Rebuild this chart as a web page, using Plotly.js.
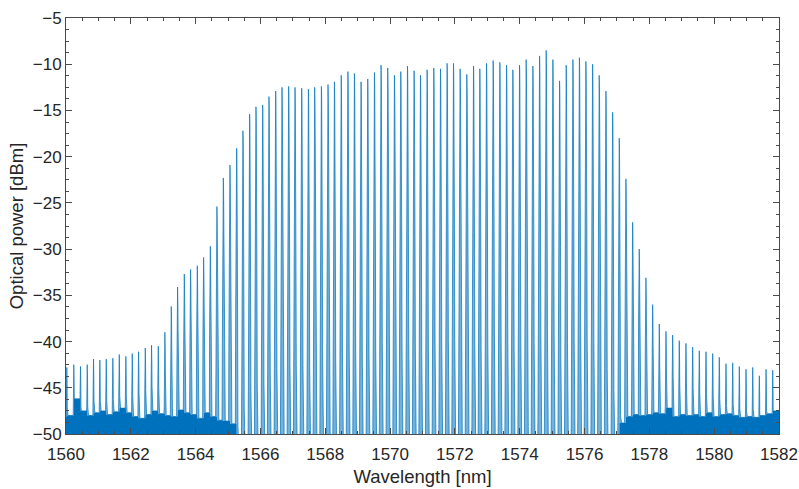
<!DOCTYPE html>
<html>
<head>
<meta charset="utf-8">
<script src="https://cdn.plot.ly/plotly-3.0.1.min.js"></script>
<style>html,body{margin:0;padding:0;background:#fff;}#chart{width:799px;height:489px;}</style>
</head>
<body>
<div id="chart"></div>
<script>
// Comb line centre wavelengths [nm]
const peakWavelength = [1560.025,1560.241,1560.448,1560.655,1560.849,1561.044,1561.241,1561.445,1561.643,1561.847,
1562.044,1562.239,1562.446,1562.640,1562.847,1563.051,1563.248,1563.443,1563.650,1563.844,
1564.051,1564.246,1564.453,1564.656,1564.854,1565.058,1565.265,1565.459,1565.666,1565.861,
1566.068,1566.262,1566.469,1566.664,1566.870,1567.065,1567.272,1567.479,1567.673,1567.880,
1568.084,1568.282,1568.491,1568.698,1568.899,1569.103,1569.310,1569.517,1569.720,1569.927,
1570.134,1570.329,1570.536,1570.739,1570.937,1571.141,1571.348,1571.555,1571.758,1571.956,
1572.160,1572.367,1572.574,1572.768,1572.975,1573.179,1573.386,1573.593,1573.787,1573.994,
1574.198,1574.405,1574.612,1574.815,1575.022,1575.229,1575.433,1575.640,1575.841,1576.041,
1576.248,1576.452,1576.659,1576.866,1577.070,1577.276,1577.483,1577.687,1577.894,1578.101,
1578.305,1578.512,1578.719,1578.922,1579.129,1579.336,1579.540,1579.747,1579.954,1580.157,
1580.364,1580.571,1580.775,1580.982,1581.189,1581.393,1581.600,1581.806];

// Peak power of each comb line [dBm]
const peakPower = [-42.8,-42.5,-42.7,-42.5,-41.9,-42.0,-41.9,-41.8,-41.4,-41.6,
-41.3,-41.1,-40.7,-40.4,-40.5,-39.0,-36.2,-34.1,-32.7,-32.2,
-31.8,-30.9,-29.7,-25.4,-22.3,-20.9,-19.1,-17.2,-15.4,-14.6,
-14.4,-13.5,-12.9,-12.5,-12.4,-12.5,-12.6,-12.7,-12.5,-12.4,
-12.2,-11.9,-11.2,-10.8,-11.0,-11.9,-11.6,-10.9,-10.1,-10.4,
-11.2,-10.8,-10.2,-10.7,-11.2,-10.6,-10.4,-10.5,-9.9,-9.9,
-10.5,-11.1,-10.2,-10.5,-9.9,-9.6,-9.8,-10.1,-10.6,-10.1,
-9.5,-10.2,-9.1,-8.5,-9.5,-11.8,-10.1,-9.5,-9.3,-9.7,
-10.0,-11.2,-12.9,-15.2,-18.0,-22.4,-27.1,-30.0,-33.1,-36.0,
-38.1,-38.9,-39.3,-39.9,-40.2,-40.6,-41.0,-41.1,-41.3,-41.7,
-42.4,-42.3,-42.7,-43.0,-42.8,-43.7,-43.0,-43.1];

// Noise-floor level in each gap (before line 1, between lines, after the last) [dBm]
const floorLevel = [-48.1,-48.0,-46.2,-47.5,-48.0,-47.7,-47.5,-47.9,-47.6,-47.2,
-47.7,-48.1,-48.3,-47.9,-47.5,-47.8,-48.0,-48.1,-47.4,-47.7,
-47.9,-48.3,-47.7,-48.1,-48.5,-48.6,-48.9,
-52,-52,-52,-52,-52,-52,-52,-52,-52,-52,
-52,-52,-52,-52,-52,-52,-52,-52,-52,-52,
-52,-52,-52,-52,-52,-52,-52,-52,-52,-52,
-52,-52,-52,-52,-52,-52,-52,-52,-52,-52,
-52,-52,-52,-52,-52,-52,-52,-52,-52,-52,
-52,-52,-52,-52,-52,-52,-52,-52,
-48.8,-48.1,-47.9,-48.0,-47.9,-47.7,-47.8,-47.2,-48.1,-47.9,
-48.0,-47.9,-48.1,-47.7,-48.1,-47.9,-47.8,-48.0,-48.2,-48.1,
-48.2,-48.0,-47.8,-47.5];

// Line-shape (OSA filter) drawing style: offset from line centre [nm] -> drop below peak [dB]
const shapeOffset = [0.07, 0.06, 0.05, 0.04, 0.03, 0.02, 0.015, 0.01, 0.005, 0];
const shapeDrop   = [60,   48,   39,   30,   18,   8,    4.5,   2,    0.5,   0];
const color = '#0072BD';

const sx = [], sy = [], fy = [];
sx.push(1559.9); sy.push(floorLevel[0]); fy.push(floorLevel[0]);
for (let i = 0; i < peakWavelength.length; i++) {
  const n = shapeOffset.length;
  for (let j = 0; j < n; j++) {            // left flank
    const fl = floorLevel[i];
    sx.push(peakWavelength[i] - shapeOffset[j]);
    sy.push(Math.max(peakPower[i] - shapeDrop[j], fl));
    fy.push(fl);
  }
  for (let j = n - 2; j >= 0; j--) {       // right flank
    const fl = floorLevel[i + 1];
    sx.push(peakWavelength[i] + shapeOffset[j]);
    sy.push(Math.max(peakPower[i] - shapeDrop[j], fl));
    fy.push(fl);
  }
}
sx.push(1582.1); sy.push(floorLevel[floorLevel.length - 1]); fy.push(floorLevel[floorLevel.length - 1]);

const axisColor = '#4a4a4a';
const textColor = '#262626';
const fam = 'Liberation Sans, Arial, Helvetica, sans-serif';
const tickFont = {family: fam, size: 17, color: textColor};
const titleFont = {family: fam, size: 18.5, color: textColor};

const traces = [
  {x: [1559.9, 1582.1], y: [-60, -60], mode: 'lines', line: {width: 0, color: color}, hoverinfo: 'skip'},
  {x: sx, y: fy, mode: 'lines', line: {width: 0, color: color}, fill: 'tonexty', fillcolor: color, hoverinfo: 'skip'},
  {x: sx, y: sy, mode: 'lines', line: {width: 0.7, color: color}, fill: 'tonexty', fillcolor: 'rgba(0,114,189,0.55)'}
];

const layout = {
  width: 799, height: 489,
  margin: {l: 66, r: 20, t: 18, b: 55},
  paper_bgcolor: '#fff', plot_bgcolor: '#fff',
  showlegend: false,
  font: tickFont,
  xaxis: {
    range: [1560, 1582], tick0: 1560, dtick: 2,
    ticks: 'inside', ticklen: 6, tickwidth: 1, tickcolor: axisColor,
    showline: true, linecolor: axisColor, linewidth: 1, mirror: 'allticks',
    showgrid: false, zeroline: false,
    minor: {dtick: 0.5, ticks: 'inside', ticklen: 3, tickcolor: axisColor, showgrid: false},
    tickfont: tickFont, ticklabelstandoff: 5,
    title: {text: 'Wavelength [nm]', font: titleFont, standoff: 6}
  },
  yaxis: {
    range: [-50, -5], tick0: -50, dtick: 5,
    ticks: 'inside', ticklen: 6, tickwidth: 1, tickcolor: axisColor,
    showline: true, linecolor: axisColor, linewidth: 1, mirror: 'allticks',
    showgrid: false, zeroline: false,
    minor: {dtick: 1.25, ticks: 'inside', ticklen: 3, tickcolor: axisColor, showgrid: false},
    tickfont: tickFont, ticklabelstandoff: 0,
    title: {text: 'Optical power [dBm]', font: titleFont, standoff: 4}
  }
};

Plotly.newPlot('chart', traces, layout, {displayModeBar: false, staticPlot: true});
</script>
</body>
</html>
